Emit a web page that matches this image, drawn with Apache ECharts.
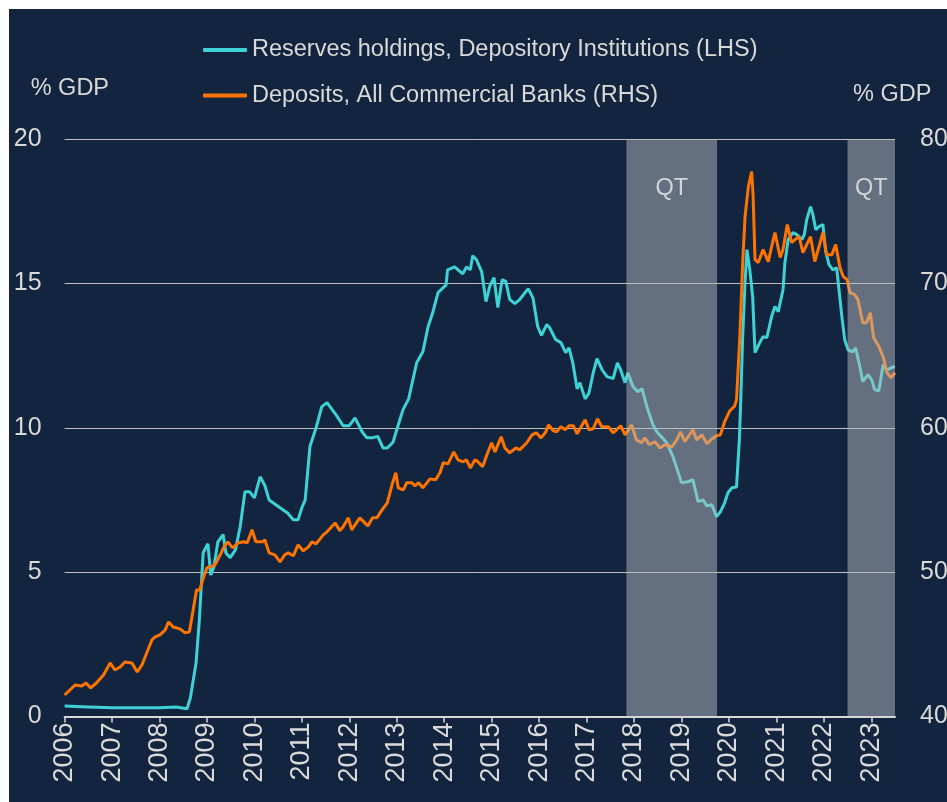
<!DOCTYPE html>
<html>
<head>
<meta charset="utf-8">
<script src="https://cdn.jsdelivr.net/npm/echarts@6/dist/echarts.min.js"></script>
<style>
  html, body { margin: 0; padding: 0; background: #ffffff; }
  #chart { position: absolute; left: 9px; top: 9px; width: 938px; height: 793px; }
</style>
</head>
<body>
<div id="chart"></div>
<script>
// year ticks on the x axis
const years = [2006, 2007, 2008, 2009, 2010, 2011, 2012, 2013, 2014, 2015, 2016, 2017, 2018, 2019, 2020, 2021, 2022, 2023]

// Reserves holdings, Depository Institutions, % GDP (LHS) - [year, value]
const reserves = [
  [2006.0, 0.36], [2006.5, 0.33], [2007.0, 0.3], [2007.5, 0.3], [2008.0, 0.3], [2008.35, 0.33], [2008.58, 0.27],
  [2008.65, 0.64], [2008.77, 1.85], [2008.84, 3.35], [2008.92, 5.67], [2009.02, 5.98], [2009.08, 4.9], [2009.15, 5.2],
  [2009.23, 6.05], [2009.34, 6.3], [2009.4, 5.66], [2009.49, 5.5], [2009.6, 5.77], [2009.7, 6.57], [2009.8, 7.78],
  [2009.9, 7.78], [2010.0, 7.57], [2010.12, 8.3], [2010.22, 8.0], [2010.31, 7.5], [2010.54, 7.23], [2010.7, 7.05],
  [2010.82, 6.81], [2010.92, 6.81], [2011.0, 7.23], [2011.07, 7.5], [2011.17, 9.35], [2011.3, 10.0], [2011.42, 10.73],
  [2011.53, 10.87], [2011.74, 10.4], [2011.87, 10.07], [2012.0, 10.07], [2012.12, 10.34], [2012.27, 9.86], [2012.37, 9.65],
  [2012.48, 9.65], [2012.6, 9.7], [2012.71, 9.3], [2012.8, 9.3], [2012.92, 9.5], [2013.0, 9.93], [2013.13, 10.62],
  [2013.25, 11.0], [2013.42, 12.25], [2013.55, 12.63], [2013.66, 13.5], [2013.76, 14.0], [2013.87, 14.68], [2014.04, 14.95],
  [2014.07, 15.47], [2014.22, 15.57], [2014.39, 15.33], [2014.47, 15.57], [2014.55, 15.47], [2014.6, 15.96], [2014.68, 15.82],
  [2014.79, 15.4], [2014.88, 14.37], [2014.96, 14.9], [2015.05, 15.2], [2015.13, 14.16], [2015.22, 15.13], [2015.3, 15.06],
  [2015.38, 14.44], [2015.49, 14.3], [2015.59, 14.44], [2015.77, 14.82], [2015.87, 14.5], [2015.97, 13.5], [2016.05, 13.2],
  [2016.16, 13.57], [2016.22, 13.47], [2016.35, 13.05], [2016.46, 12.95], [2016.56, 12.6], [2016.63, 12.77], [2016.71, 12.25],
  [2016.8, 11.35], [2016.86, 11.56], [2016.97, 11.0], [2017.05, 11.2], [2017.14, 11.9], [2017.22, 12.39], [2017.33, 12.0],
  [2017.43, 11.77], [2017.56, 11.7], [2017.65, 12.25], [2017.72, 12.0], [2017.81, 11.56], [2017.87, 11.9], [2017.98, 11.42],
  [2018.08, 11.25], [2018.17, 11.35], [2018.27, 10.73], [2018.4, 10.1], [2018.48, 9.86], [2018.69, 9.48], [2018.82, 9.0],
  [2019.0, 8.1], [2019.14, 8.13], [2019.24, 8.2], [2019.35, 7.44], [2019.46, 7.5], [2019.53, 7.3], [2019.64, 7.33],
  [2019.74, 6.92], [2019.82, 7.09], [2019.91, 7.4], [2019.98, 7.75], [2020.06, 7.92], [2020.16, 7.95], [2020.22, 9.58],
  [2020.25, 11.0], [2020.29, 13.15], [2020.34, 15.03], [2020.38, 16.17], [2020.44, 15.47], [2020.5, 14.54], [2020.55, 12.6],
  [2020.65, 12.95], [2020.72, 13.15], [2020.8, 13.12], [2020.9, 13.85], [2020.97, 14.2], [2021.04, 14.02], [2021.14, 14.78],
  [2021.18, 15.72], [2021.25, 16.52], [2021.35, 16.76], [2021.43, 16.69], [2021.54, 16.52], [2021.59, 16.7], [2021.64, 17.21],
  [2021.72, 17.66], [2021.77, 17.38], [2021.83, 16.86], [2021.9, 16.97], [2021.98, 17.04], [2022.04, 16.1], [2022.11, 15.65],
  [2022.19, 15.47], [2022.27, 15.54], [2022.32, 14.78], [2022.38, 13.85], [2022.44, 13.05], [2022.51, 12.7], [2022.61, 12.63],
  [2022.67, 12.77], [2022.76, 12.11], [2022.82, 11.6], [2022.93, 11.84], [2023.01, 11.66], [2023.07, 11.32], [2023.16, 11.28],
  [2023.25, 12.18], [2023.33, 12.0], [2023.46, 12.11], [2023.5, 12.1]
]

// Deposits, All Commercial Banks, % GDP (RHS) - [year, value]
const deposits = [
  [2006.0, 41.49], [2006.07, 41.7], [2006.22, 42.18], [2006.36, 42.11], [2006.45, 42.32], [2006.55, 41.98], [2006.67, 42.32],
  [2006.82, 42.87], [2006.96, 43.71], [2007.06, 43.22], [2007.17, 43.43], [2007.27, 43.78], [2007.42, 43.71], [2007.53, 43.08],
  [2007.63, 43.57], [2007.73, 44.4], [2007.84, 45.3], [2007.91, 45.51], [2008.01, 45.65], [2008.12, 46.0], [2008.19, 46.55],
  [2008.29, 46.2], [2008.43, 46.07], [2008.54, 45.79], [2008.63, 45.86], [2008.71, 47.39], [2008.78, 48.77], [2008.85, 48.77],
  [2008.93, 49.67], [2009.0, 50.3], [2009.07, 50.37], [2009.17, 50.5], [2009.28, 51.2], [2009.36, 51.75], [2009.44, 52.1],
  [2009.54, 51.68], [2009.66, 52.03], [2009.78, 52.1], [2009.85, 52.03], [2009.95, 52.93], [2010.03, 52.1], [2010.18, 52.1],
  [2010.22, 52.24], [2010.31, 51.33], [2010.43, 51.2], [2010.54, 50.71], [2010.64, 51.2], [2010.71, 51.33], [2010.82, 51.13],
  [2010.92, 51.89], [2011.03, 51.47], [2011.14, 51.75], [2011.21, 52.1], [2011.3, 51.96], [2011.45, 52.58], [2011.53, 52.79],
  [2011.7, 53.41], [2011.8, 52.86], [2011.87, 53.14], [2011.98, 53.76], [2012.05, 52.93], [2012.22, 53.76], [2012.39, 53.2],
  [2012.49, 53.76], [2012.58, 53.76], [2012.69, 54.31], [2012.8, 54.8], [2012.9, 56.05], [2012.98, 56.88], [2013.03, 55.84],
  [2013.14, 55.7], [2013.21, 56.19], [2013.32, 56.19], [2013.38, 55.98], [2013.46, 56.19], [2013.55, 55.84], [2013.7, 56.46],
  [2013.82, 56.4], [2013.91, 56.88], [2013.98, 57.57], [2014.08, 57.5], [2014.2, 58.33], [2014.29, 57.78], [2014.4, 57.64],
  [2014.47, 57.78], [2014.55, 57.22], [2014.65, 57.78], [2014.71, 57.64], [2014.81, 57.3], [2014.9, 58.13], [2015.0, 58.96],
  [2015.07, 58.33], [2015.2, 59.37], [2015.28, 58.6], [2015.38, 58.26], [2015.51, 58.6], [2015.59, 58.47], [2015.74, 58.96],
  [2015.85, 59.51], [2015.94, 59.65], [2016.04, 59.3], [2016.13, 59.65], [2016.2, 60.2], [2016.3, 59.79], [2016.37, 59.72],
  [2016.46, 60.07], [2016.55, 59.86], [2016.63, 60.14], [2016.72, 60.14], [2016.8, 59.58], [2016.97, 60.55], [2017.05, 59.86],
  [2017.14, 59.93], [2017.23, 60.62], [2017.32, 60.07], [2017.46, 60.07], [2017.56, 59.65], [2017.72, 60.14], [2017.81, 59.51],
  [2017.95, 60.2], [2018.05, 59.16], [2018.16, 58.96], [2018.23, 59.3], [2018.32, 58.82], [2018.44, 59.03], [2018.55, 58.6],
  [2018.65, 58.82], [2018.8, 58.68], [2018.9, 59.16], [2018.98, 59.72], [2019.07, 59.03], [2019.24, 59.86], [2019.32, 59.16],
  [2019.43, 59.51], [2019.54, 58.89], [2019.64, 59.23], [2019.74, 59.44], [2019.82, 59.51], [2019.91, 60.42], [2020.02, 61.18],
  [2020.12, 61.5], [2020.16, 61.94], [2020.23, 66.31], [2020.29, 71.44], [2020.34, 74.63], [2020.41, 76.71], [2020.48, 77.75],
  [2020.51, 76.02], [2020.55, 71.65], [2020.62, 71.44], [2020.72, 72.34], [2020.83, 71.51], [2020.9, 72.55], [2020.97, 73.52],
  [2021.08, 71.79], [2021.14, 72.34], [2021.23, 74.07], [2021.32, 72.83], [2021.39, 73.03], [2021.48, 73.24], [2021.56, 72.13],
  [2021.64, 72.69], [2021.72, 73.24], [2021.81, 71.51], [2021.91, 72.69], [2021.98, 73.52], [2022.06, 71.99], [2022.17, 71.99],
  [2022.25, 72.69], [2022.34, 71.09], [2022.41, 70.47], [2022.49, 70.26], [2022.55, 69.36], [2022.65, 69.22], [2022.72, 68.87],
  [2022.82, 67.28], [2022.9, 67.28], [2022.98, 67.97], [2023.05, 66.24], [2023.16, 65.62], [2023.25, 64.92], [2023.33, 63.81],
  [2023.42, 63.47], [2023.5, 63.81]
]

// quantitative tightening periods [start, end]
const qtPeriods = [[2017.84, 2019.75], [2022.5, 2023.5]]

const textColor = '#d9d9d9'
const font = 'Liberation Sans, Arial, sans-serif'

const chart = echarts.init(document.getElementById('chart'))

chart.setOption({
  backgroundColor: '#13253e',
  animation: false,
  textStyle: { fontFamily: font },
  legend: {
    data: ['Reserves holdings, Depository Institutions (LHS)', 'Deposits, All Commercial Banks (RHS)'],
    orient: 'vertical',
    left: 189,
    top: 24,
    itemGap: 21.5,
    itemWidth: 44,
    itemHeight: 4,
    icon: 'roundRect',
    textStyle: { color: textColor, fontSize: 23.5, fontFamily: font }
  },
  graphic: [
    { type: 'text', left: 21.7, top: 68, style: { text: '% GDP', fill: textColor, fontSize: 23.5, fontFamily: font } },
    { type: 'text', left: 844, top: 74, style: { text: '% GDP', fill: textColor, fontSize: 23.5, fontFamily: font } }
  ],
  grid: {
    left: 55.6,
    right: 52,
    top: 130,
    bottom: 85.5,
    containLabel: false,
    outerBoundsMode: 'none'
  },
  xAxis: {
    type: 'value',
    min: 2006,
    max: 2023.5,
    axisLine: { show: true, lineStyle: { color: textColor, width: 2 } },
    axisTick: { show: true, customValues: years, length: 6, lineStyle: { color: textColor, width: 1.5 } },
    axisLabel: {
      customValues: years,
      rotate: 90,
      margin: 6,
      color: textColor,
      fontSize: 27,
      fontFamily: font,
      formatter: v => String(v)
    },
    splitLine: { show: false }
  },
  yAxis: [{
    type: 'value',
    min: 0,
    max: 20,
    interval: 5,
    axisLine: { show: false },
    axisTick: { show: false },
    axisLabel: { color: textColor, fontSize: 25, margin: 23, fontFamily: font },
    splitLine: { lineStyle: { color: '#bfbfbf', width: 1 } }
  }, {
    type: 'value',
    min: 40,
    max: 80,
    interval: 10,
    axisLine: { show: false },
    axisTick: { show: false },
    axisLabel: { color: textColor, fontSize: 25, margin: 25, fontFamily: font },
    splitLine: { show: false }
  }],
  series: [{
    name: 'Reserves holdings, Depository Institutions (LHS)',
    type: 'line',
    yAxisIndex: 0,
    data: reserves,
    symbol: 'none',
    color: '#3ed2d6',
    lineStyle: { width: 3, color: '#3ed2d6' },
    z: 3
  }, {
    name: 'Deposits, All Commercial Banks (RHS)',
    type: 'line',
    yAxisIndex: 1,
    data: deposits,
    symbol: 'none',
    color: '#ff7400',
    lineStyle: { width: 3, color: '#ff7400' },
    z: 4
  }, {
    name: 'QT',
    type: 'line',
    yAxisIndex: 0,
    data: [],
    z: 10,
    silent: true,
    markArea: {
      silent: true,
      z: 10,
      itemStyle: { color: 'rgba(181,187,192,0.5)' },
      label: {
        show: true,
        position: 'insideTop',
        distance: 38,
        color: '#d0d4d8',
        fontSize: 23.5,
        fontFamily: font
      },
      data: qtPeriods.map(p => [{ name: 'QT', xAxis: p[0] }, { xAxis: p[1] }])
    }
  }]
})
</script>
</body>
</html>
